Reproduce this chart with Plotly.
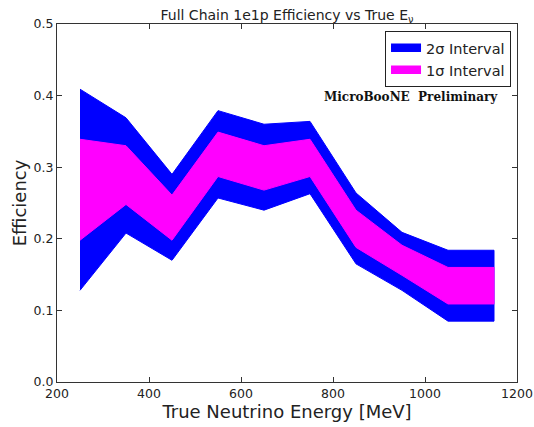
import plotly.graph_objects as go

energy = [250, 350, 450, 550, 650, 750, 850, 950, 1050, 1150]
two_sigma_hi = [0.409, 0.369, 0.290, 0.379, 0.360, 0.364, 0.264, 0.209, 0.184, 0.184]
two_sigma_lo = [0.128, 0.208, 0.170, 0.257, 0.240, 0.263, 0.165, 0.128, 0.085, 0.085]
one_sigma_hi = [0.339, 0.330, 0.261, 0.349, 0.330, 0.339, 0.240, 0.191, 0.160, 0.160]
one_sigma_lo = [0.198, 0.248, 0.198, 0.287, 0.268, 0.287, 0.188, 0.149, 0.109, 0.109]

x_ticks = [200, 400, 600, 800, 1000, 1200]
y_ticks = [0.0, 0.1, 0.2, 0.3, 0.4, 0.5]

font = "DejaVu Sans"
fig = go.Figure()

def band(lo, hi, color, name):
    fig.add_trace(go.Scatter(
        x=energy + energy[::-1], y=hi + lo[::-1],
        fill="toself", fillcolor=color, mode="lines",
        line=dict(color=color, width=1), name=name, hoverinfo="skip"))

band(two_sigma_lo, two_sigma_hi, "#0000ff", "2σ Interval")
band(one_sigma_lo, one_sigma_hi, "#ff00ff", "1σ Interval")

axis_common = dict(showgrid=False, zeroline=False, showline=True, linecolor="#333",
                   linewidth=1, mirror="ticks", ticks="inside", ticklen=5,
                   tickcolor="#333", automargin=False,
                   tickfont=dict(family=font, size=12.5, color="#222"))

fig.update_layout(
    width=534, height=427,
    margin=dict(l=57, r=17, t=24, b=45, autoexpand=False),
    paper_bgcolor="white", plot_bgcolor="white",
    font=dict(family=font, color="#222"),
    title=dict(text="Full Chain 1e1p Efficiency vs True E<sub>ν</sub>",
               x=0.5, xref="paper", y=1, yref="paper", yanchor="bottom",
               pad=dict(b=4), font=dict(family=font, size=14, color="#222")),
    xaxis=dict(range=[200, 1200], tickvals=x_ticks,
               title=dict(text="True Neutrino Energy [MeV]", font=dict(family=font, size=18), standoff=5),
               **axis_common),
    yaxis=dict(range=[0, 0.5], tickvals=y_ticks, tickformat=".1f",
               title=dict(text="Efficiency", font=dict(family=font, size=18), standoff=2),
               **axis_common),
    legend=dict(x=0.987, y=0.98, xanchor="right", yanchor="top",
                bordercolor="#222", borderwidth=1, bgcolor="white",
                font=dict(family=font, size=14.5, color="#222"),
                itemsizing="constant", tracegroupgap=0),
    showlegend=True,
    annotations=[dict(text="<b>MicroBooNE  Preliminary</b>", x=0.963, y=0.797,
                      xref="paper", yref="paper", xanchor="right", yanchor="middle",
                      showarrow=False, font=dict(family="DejaVu Serif", size=12, color="#111"))],
)

fig.write_html("out.html")
